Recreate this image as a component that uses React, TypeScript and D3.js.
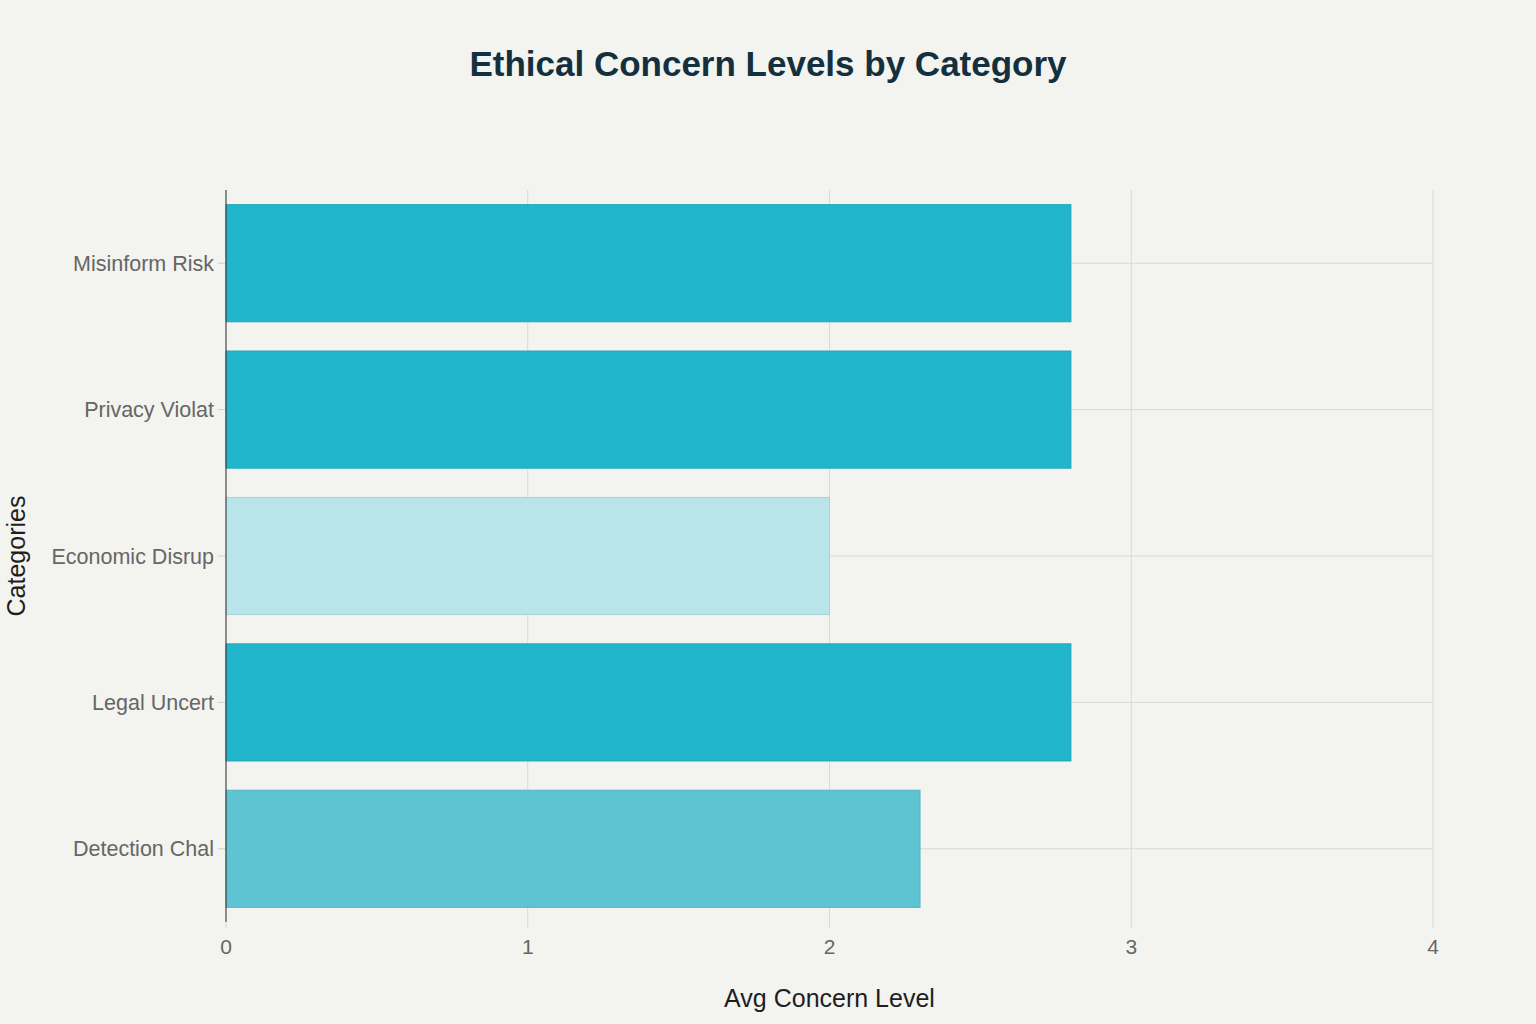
import React from "react";
import * as d3 from "d3";

const categories = ["Misinform Risk", "Privacy Violat", "Economic Disrup", "Legal Uncert", "Detection Chal"];
const values = [2.8, 2.8, 2.0, 2.8, 2.3];
const xTicks = [0, 1, 2, 3, 4];

const W = 1536;
const H = 1024;
const margin = { left: 226, right: 103, top: 190, bottom: 102 };

const colorScale = d3
  .scaleLinear<string>()
  .domain([2.0, 2.3, 2.8])
  .range(["#B9E4EA", "#5FC4D2", "#21B6CB"]);
const strokeScale = d3
  .scaleLinear<string>()
  .domain([2.0, 2.3, 2.8])
  .range(["#A9D3D9", "#55B4C1", "#1EA5B9"]);

export default function App() {
  const x = d3.scaleLinear().domain([0, 4]).range([margin.left, W - margin.right]);
  const y = d3
    .scaleBand<string>()
    .domain(categories)
    .range([margin.top, H - margin.bottom])
    .paddingInner(0.2)
    .paddingOuter(0.1);
  const font = "'Liberation Sans', Arial, sans-serif";
  const plotBottom = H - margin.bottom;
  return (
    <svg
      width={W}
      height={H}
      style={{ position: "absolute", left: 0, top: 0, display: "block" }}
      fontFamily={font}
    >
      <rect width={W} height={H} fill="#F3F3EF" />
      <text x={768} y={76} textAnchor="middle" fontSize={35} fontWeight={700} fill="#13303F">
        Ethical Concern Levels by Category
      </text>
      {xTicks.map((t) => (
        <line key={"gx" + t} x1={x(t)} x2={x(t)} y1={margin.top} y2={plotBottom + 6} stroke="#DAD9D5" strokeWidth={1} />
      ))}
      {categories.map((c) => {
        const cy = (y(c) ?? 0) + y.bandwidth() / 2;
        return (
          <g key={"gy" + c}>
            <line x1={margin.left} x2={x(4)} y1={cy} y2={cy} stroke="#DAD9D5" strokeWidth={1} />
            <line x1={margin.left - 8} x2={margin.left} y1={cy} y2={cy} stroke="#D0D0CC" strokeWidth={1} />
          </g>
        );
      })}
      {categories.map((c, i) => (
        <rect
          key={"b" + c}
          x={x(0)}
          y={y(c)}
          width={x(values[i]) - x(0)}
          height={y.bandwidth()}
          fill={colorScale(values[i])}
          stroke={strokeScale(values[i])}
          strokeWidth={1}
        />
      ))}
      <line x1={margin.left} x2={margin.left} y1={margin.top} y2={plotBottom} stroke="#333" strokeWidth={1} />
      {categories.map((c) => {
        const cy = (y(c) ?? 0) + y.bandwidth() / 2;
        return (
          <text key={"l" + c} x={margin.left - 12} y={cy} dy="0.35em" textAnchor="end" fontSize={21.5} fill="#666">
            {c}
          </text>
        );
      })}
      {xTicks.map((t) => (
        <text key={"xt" + t} x={x(t)} y={954} textAnchor="middle" fontSize={21} fill="#666">
          {t}
        </text>
      ))}
      <text x={(x(0) + x(4)) / 2} y={1007} textAnchor="middle" fontSize={25} fill="#1E1E1E">
        Avg Concern Level
      </text>
      <text
        transform={`translate(25, ${(margin.top + plotBottom) / 2}) rotate(-90)`}
        textAnchor="middle"
        fontSize={25}
        fill="#1E1E1E"
      >
        Categories
      </text>
    </svg>
  );
}
